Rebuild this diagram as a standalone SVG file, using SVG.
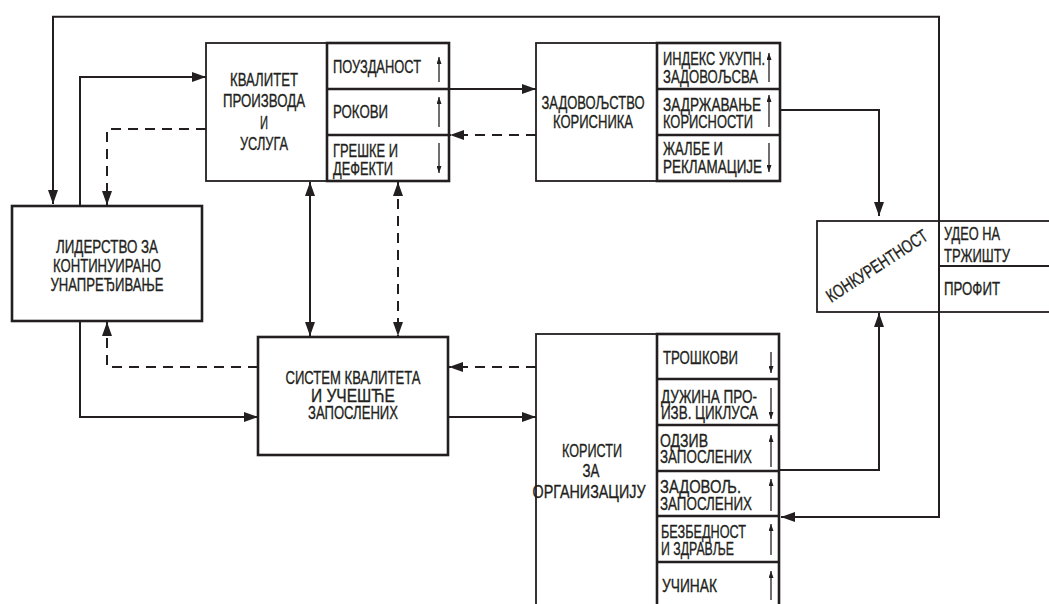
<svg xmlns="http://www.w3.org/2000/svg" width="1049" height="604" viewBox="0 0 1049 604">
  <style>
    .t { font-family: "Liberation Sans", Arial, sans-serif; font-size: 18px; fill: #231f20; stroke: #231f20; stroke-width: 0.35; }
    .c { text-anchor: middle; }
    .box { fill: #ffffff; stroke: #231f20; stroke-width: 1.8; }
    .cell { fill: none; stroke: #231f20; stroke-width: 2.6; }
    .thick { fill: #ffffff; stroke: #231f20; stroke-width: 2.6; }
    .ln { fill: none; stroke: #231f20; stroke-width: 2; }
    .solid { fill: none; stroke: #231f20; stroke-width: 2; marker-end: url(#arr); }
    .dash { fill: none; stroke: #231f20; stroke-width: 2; stroke-dasharray: 10 7; marker-end: url(#arr); }
    .both { marker-start: url(#arr); }
    .tick { stroke: #231f20; stroke-width: 1.3; marker-end: url(#sm); }
  </style>
  <defs>
    <marker id="arr" viewBox="0 0 14 10" refX="14" refY="5" markerWidth="14" markerHeight="10" markerUnits="userSpaceOnUse" orient="auto-start-reverse">
      <path d="M0,0 L14,5 L0,10 z" fill="#231f20"/>
    </marker>
    <marker id="sm" viewBox="0 0 7 5" refX="7" refY="2.5" markerWidth="7" markerHeight="5" markerUnits="userSpaceOnUse" orient="auto">
      <path d="M0,0 L7,2.5 L0,5 z" fill="#231f20"/>
    </marker>
  </defs>
  <rect width="1049" height="604" fill="#ffffff"/>

  <!-- connectors -->
  <g id="connectors">
    <path class="ln" d="M53,204 V16.7 H939 V517 H781" marker-start="url(#arr)" marker-end="url(#arr)"/>
    <path class="solid" d="M80,206 V77 H206"/>
    <path class="dash" d="M206,129 H107 V205"/>
    <path class="solid" d="M80,321 V417 H258"/>
    <path class="dash" d="M258,367 H107 V322"/>
    <path class="solid both" d="M310,182 V336"/>
    <path class="dash both" d="M398,182 V336"/>
    <path class="solid" d="M449,89 H536"/>
    <path class="dash" d="M536,135 H450"/>
    <path class="solid" d="M780,110 H879 V216"/>
    <path class="solid" d="M780,470 H879 V313"/>
    <path class="solid" d="M448,417 H536"/>
    <path class="dash" d="M536,367 H449"/>
  </g>

  <!-- quality of products and services -->
  <g id="kvalitet">
    <rect class="box" x="206" y="43" width="243" height="138"/>
    <rect class="cell" x="327" y="43" width="122" height="138"/>
    <line class="cell" x1="327" y1="89" x2="449" y2="89"/>
    <line class="cell" x1="327" y1="135" x2="449" y2="135"/>
    <text class="t c" x="264" y="86" textLength="68" lengthAdjust="spacingAndGlyphs">КВАЛИТЕТ</text>
    <text class="t c" x="264" y="107" textLength="82" lengthAdjust="spacingAndGlyphs">ПРОИЗВОДА</text>
    <text class="t c" x="264" y="129" textLength="8" lengthAdjust="spacingAndGlyphs">И</text>
    <text class="t c" x="264" y="150" textLength="48" lengthAdjust="spacingAndGlyphs">УСЛУГА</text>
    <text class="t" x="333" y="73" textLength="88" lengthAdjust="spacingAndGlyphs">ПОУЗДАНОСТ</text>
    <text class="t" x="333" y="118" textLength="55" lengthAdjust="spacingAndGlyphs">РОКОВИ</text>
    <text class="t" x="333" y="157" textLength="65" lengthAdjust="spacingAndGlyphs">ГРЕШКЕ И</text>
    <text class="t" x="333" y="175" textLength="60" lengthAdjust="spacingAndGlyphs">ДЕФЕКТИ</text>
    <line class="tick" x1="439" y1="82" x2="439" y2="57"/>
    <line class="tick" x1="439" y1="127" x2="439" y2="97"/>
    <line class="tick" x1="439" y1="143" x2="439" y2="173"/>
  </g>

  <!-- customer satisfaction -->
  <g id="zadovoljstvo">
    <rect class="box" x="536" y="43" width="244" height="138"/>
    <rect class="cell" x="657" y="43" width="123" height="138"/>
    <line class="cell" x1="657" y1="89" x2="780" y2="89"/>
    <line class="cell" x1="657" y1="135" x2="780" y2="135"/>
    <text class="t c" x="593" y="109" textLength="103" lengthAdjust="spacingAndGlyphs">ЗАДОВОЉСТВО</text>
    <text class="t c" x="593" y="128" textLength="80" lengthAdjust="spacingAndGlyphs">КОРИСНИКА</text>
    <text class="t" x="663" y="65" textLength="102" lengthAdjust="spacingAndGlyphs">ИНДЕКС УКУПН.</text>
    <text class="t" x="663" y="83" textLength="95" lengthAdjust="spacingAndGlyphs">ЗАДОВОЉСВА</text>
    <text class="t" x="663" y="111" textLength="98" lengthAdjust="spacingAndGlyphs">ЗАДРЖАВАЊЕ</text>
    <text class="t" x="663" y="128" textLength="90" lengthAdjust="spacingAndGlyphs">КОРИСНОСТИ</text>
    <text class="t" x="663" y="155" textLength="60" lengthAdjust="spacingAndGlyphs">ЖАЛБЕ И</text>
    <text class="t" x="663" y="173" textLength="99" lengthAdjust="spacingAndGlyphs">РЕКЛАМАЦИЈЕ</text>
    <line class="tick" x1="769" y1="82" x2="769" y2="53"/>
    <line class="tick" x1="769" y1="127" x2="769" y2="95"/>
    <line class="tick" x1="769" y1="143" x2="769" y2="172"/>
  </g>

  <!-- leadership -->
  <g id="liderstvo">
    <rect class="thick" x="12" y="206" width="190" height="115"/>
    <text class="t c" x="107" y="253" textLength="102" lengthAdjust="spacingAndGlyphs">ЛИДЕРСТВО ЗА</text>
    <text class="t c" x="107" y="272" textLength="108" lengthAdjust="spacingAndGlyphs">КОНТИНУИРАНО</text>
    <text class="t c" x="107" y="291" textLength="113" lengthAdjust="spacingAndGlyphs">УНАПРЕЂИВАЊЕ</text>
  </g>

  <!-- quality system and employee participation -->
  <g id="sistem">
    <rect class="thick" x="258" y="337" width="190" height="118"/>
    <text class="t c" x="353" y="384" textLength="135" lengthAdjust="spacingAndGlyphs">СИСТЕМ КВАЛИТЕТА</text>
    <text class="t c" x="353" y="402" textLength="84" lengthAdjust="spacingAndGlyphs">И УЧЕШЋЕ</text>
    <text class="t c" x="353" y="419" textLength="90" lengthAdjust="spacingAndGlyphs">ЗАПОСЛЕНИХ</text>
  </g>

  <!-- benefits for the organisation -->
  <g id="koristi">
    <rect class="box" x="536" y="334" width="243" height="280"/>
    <rect class="cell" x="657" y="334" width="122" height="280"/>
    <line class="cell" x1="657" y1="379" x2="779" y2="379"/>
    <line class="cell" x1="657" y1="425" x2="779" y2="425"/>
    <line class="cell" x1="657" y1="471" x2="779" y2="471"/>
    <line class="cell" x1="657" y1="516" x2="779" y2="516"/>
    <line class="cell" x1="657" y1="562" x2="779" y2="562"/>
    <text class="t c" x="592" y="457" textLength="60" lengthAdjust="spacingAndGlyphs">КОРИСТИ</text>
    <text class="t c" x="591" y="477" textLength="17" lengthAdjust="spacingAndGlyphs">ЗА</text>
    <text class="t c" x="589" y="498" textLength="113" lengthAdjust="spacingAndGlyphs">ОРГАНИЗАЦИЈУ</text>
    <text class="t" x="663" y="364" textLength="75" lengthAdjust="spacingAndGlyphs">ТРОШКОВИ</text>
    <text class="t" x="661" y="403" textLength="96" lengthAdjust="spacingAndGlyphs">ДУЖИНА ПРО-</text>
    <text class="t" x="661" y="419" textLength="97" lengthAdjust="spacingAndGlyphs">ИЗВ. ЦИКЛУСА</text>
    <text class="t" x="660" y="447" textLength="48" lengthAdjust="spacingAndGlyphs">ОДЗИВ</text>
    <text class="t" x="660" y="463" textLength="92" lengthAdjust="spacingAndGlyphs">ЗАПОСЛЕНИХ</text>
    <text class="t" x="660" y="493" textLength="81" lengthAdjust="spacingAndGlyphs">ЗАДОВОЉ.</text>
    <text class="t" x="660" y="510" textLength="92" lengthAdjust="spacingAndGlyphs">ЗАПОСЛЕНИХ</text>
    <text class="t" x="661" y="538" textLength="85" lengthAdjust="spacingAndGlyphs">БЕЗБЕДНОСТ</text>
    <text class="t" x="661" y="555" textLength="73" lengthAdjust="spacingAndGlyphs">И ЗДРАВЉЕ</text>
    <text class="t" x="662" y="592" textLength="55" lengthAdjust="spacingAndGlyphs">УЧИНАК</text>
    <line class="tick" x1="771" y1="352" x2="771" y2="373"/>
    <line class="tick" x1="771" y1="388" x2="771" y2="419"/>
    <line class="tick" x1="771" y1="467" x2="771" y2="435"/>
    <line class="tick" x1="771" y1="511" x2="771" y2="479"/>
    <line class="tick" x1="771" y1="555" x2="771" y2="524"/>
    <line class="tick" x1="771" y1="600" x2="771" y2="571"/>
  </g>

  <!-- competitiveness -->
  <g id="konkurentnost">
    <rect class="box" x="817" y="221" width="240" height="91"/>
    <line class="ln" x1="939" y1="221" x2="939" y2="312"/>
    <line class="ln" x1="939" y1="266" x2="1049" y2="266"/>
    <text class="t c" transform="translate(877,266) rotate(-33)" y="6" textLength="117" lengthAdjust="spacingAndGlyphs">КОНКУРЕНТНОСТ</text>
    <text class="t" x="944" y="240" textLength="56" lengthAdjust="spacingAndGlyphs">УДЕО НА</text>
    <text class="t" x="944" y="262" textLength="66" lengthAdjust="spacingAndGlyphs">ТРЖИШТУ</text>
    <text class="t" x="944" y="295" textLength="56" lengthAdjust="spacingAndGlyphs">ПРОФИТ</text>
  </g>
</svg>
